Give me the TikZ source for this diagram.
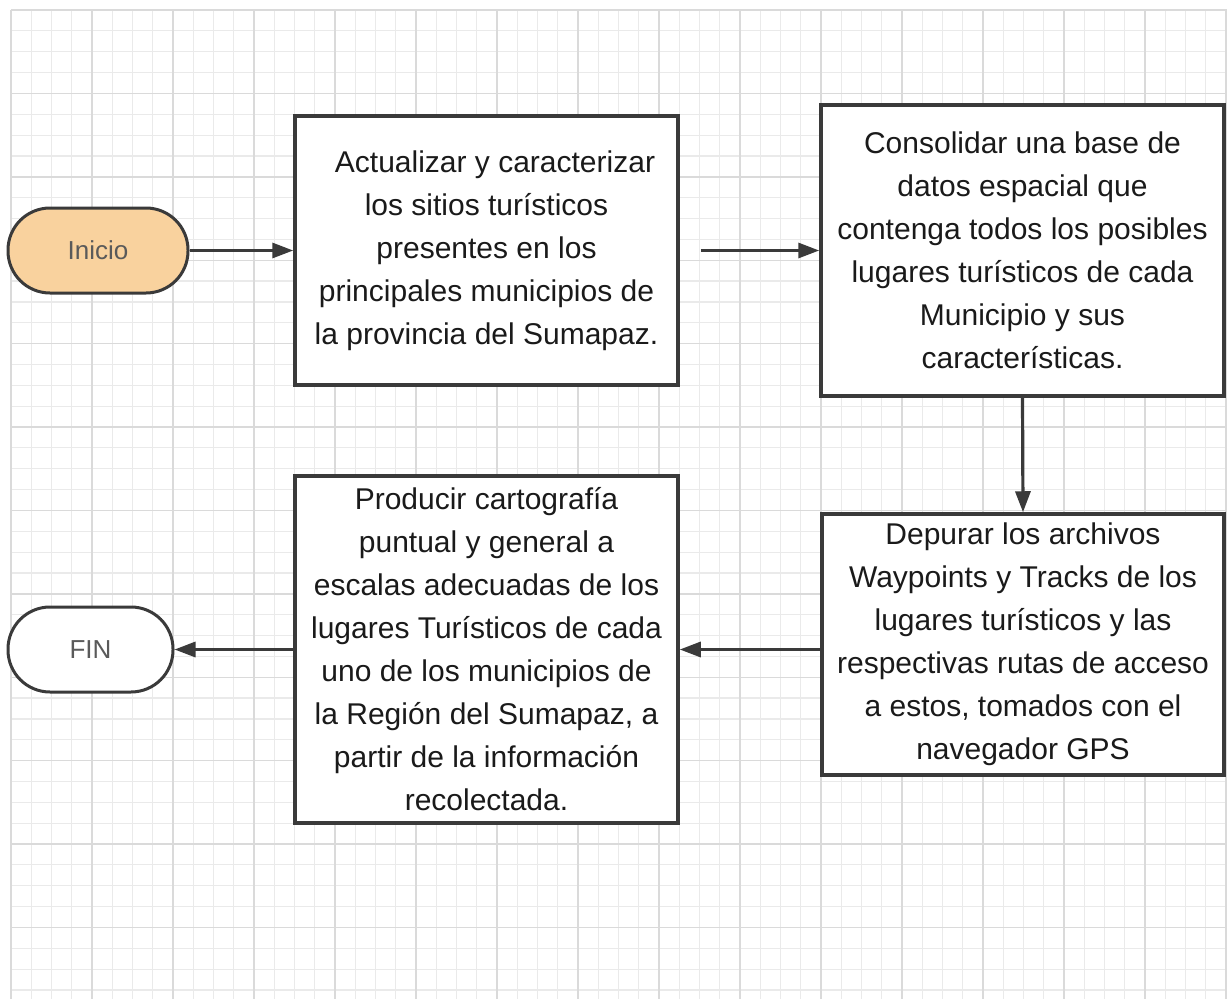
\documentclass[tikz,border=0pt]{standalone}
\usepackage{fontspec}
\setmainfont{Liberation Sans}
\usetikzlibrary{arrows.meta}
\definecolor{gridminor}{HTML}{EAEAEA}
\definecolor{gridmajor}{HTML}{DADADA}
\definecolor{edge}{HTML}{3A3A3A}
\definecolor{startfill}{HTML}{F9D29E}
\definecolor{txt}{HTML}{1A1A1A}
\definecolor{termtxt}{HTML}{5A5A5A}
\begin{document}
\begin{tikzpicture}[x=1pt,y=-1pt,
  procbox/.style={draw=edge, line width=3.5pt, fill=white, inner sep=0pt, align=center, text=txt, font=\fontsize{30}{43}\selectfont},
  term/.style={draw=edge, line width=3pt, rounded corners=42pt, minimum height=85pt, inner sep=0pt, text=termtxt, font=\fontsize{26}{30}\selectfont},
  arr/.style={draw=edge, line width=3.2pt, -{Triangle[length=21pt,width=15pt]}},
  gminor/.style={gridminor, line width=1.2pt},
  gmajor/.style={gridmajor, line width=1.4pt}]
\useasboundingbox (0,0) rectangle (1227,999);
\fill[white] (0,0) rectangle (1227,999);
% grid
\foreach \k in {0,...,60} \draw[gminor] ({11+20.25*\k},10) -- ({11+20.25*\k},999);
\foreach \k in {0,...,47} \draw[gminor] (11,{10+20.85*\k}) -- (1227,{10+20.85*\k});
\foreach \k in {0,4,...,60} \draw[gmajor] ({11+20.25*\k},10) -- ({11+20.25*\k},999);
\foreach \k in {0,4,...,44} \draw[gmajor] (11,{10+20.85*\k}) -- (1227,{10+20.85*\k});
% nodes
\node[term, fill=startfill, minimum width=180pt] (ini) at (98,250.5) {Inicio};
\node[term, fill=white, minimum width=165pt] (fin) at (90.5,649.5) {FIN};
\node[procbox, minimum width=383pt, minimum height=269pt] (b1) at (486.5,250.5)
  {\hspace*{17pt}Actualizar y caracterizar\\ los sitios turísticos\\ presentes en los\\ principales municipios de\\ la provincia del Sumapaz.};
\node[procbox, minimum width=403pt, minimum height=291pt] (b2) at (1022.5,250.5)
  {Consolidar una base de\\ datos espacial que\\ contenga todos los posibles\\ lugares turísticos de cada\\ Municipio y sus\\ características.};
\node[procbox, minimum width=402pt, minimum height=261pt] (b3) at (1023,644.5)
  {Depurar los archivos\\ Waypoints y Tracks de los\\ lugares turísticos y las\\ respectivas rutas de acceso\\ a estos, tomados con el\\ navegador GPS};
\node[procbox, minimum width=383pt, minimum height=347pt] (b4) at (486.5,649.5)
  {Producir cartografía\\ puntual y general a\\ escalas adecuadas de los\\ lugares Turísticos de cada\\ uno de los municipios de\\ la Región del Sumapaz, a\\ partir de la información\\ recolectada.};
% connectors
\draw[arr] (ini.east) -- (b1.west);
\draw[arr] ([xshift=21pt]b1.east) -- (b2.west);
\draw[arr] (b2.south) -- (b3.north);
\draw[arr] (b4.east -| b3.west) -- (b4.east);
\draw[arr] (b4.west) -- (fin.east);
\end{tikzpicture}
\end{document}
